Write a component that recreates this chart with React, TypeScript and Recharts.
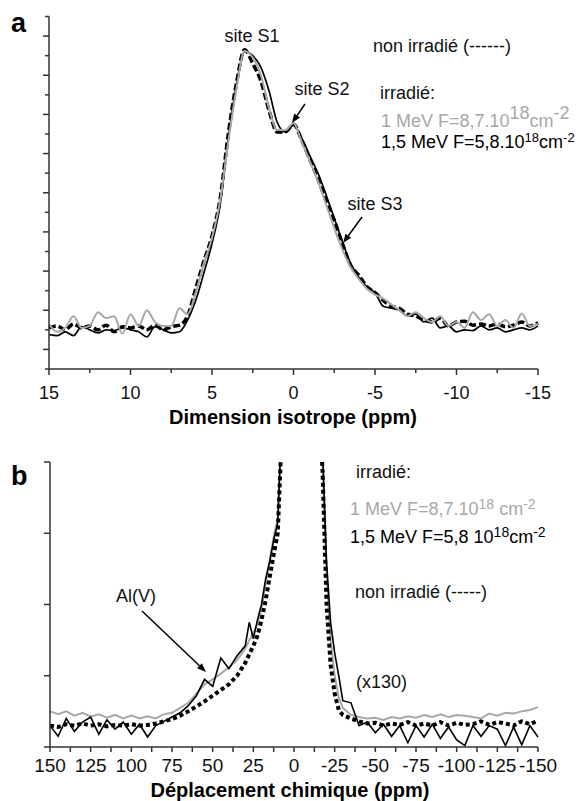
import React from 'react';
import { LineChart, Line, XAxis, YAxis } from 'recharts';

const FONT = '"Liberation Sans", Arial, Helvetica, sans-serif';
const AXIS = '#333333';
const GREY = '#a8a8a8';

// ---------- Chart a : Dimension isotrope (ppm) ----------
const xA = [15, 14.5, 14, 13.5, 13, 12.5, 12, 11.5, 11, 10.5, 10, 9.5, 9, 8.5, 8, 7.5, 7, 6.5, 6, 5.5, 5, 4.5, 4, 3.5, 3, 2.5, 2, 1.5, 1, 0.5, 0, -0.5, -1, -1.5, -2, -2.5, -3, -3.5, -4, -4.5, -5, -5.5, -6, -6.5, -7, -7.5, -8, -8.5, -9, -9.5, -10, -10.5, -11, -11.5, -12, -12.5, -13, -13.5, -14, -14.5, -15];
const greyA = [0.65, 0.45, 0.55, 0.85, 0.55, 0.6, 0.95, 0.8, 0.85, 0.4, 0.9, 0.6, 1.0, 0.7, 0.6, 0.6, 1.05, 0.9, 1.45, 2.2, 2.85, 3.8, 5.3, 6.65, 7.62, 7.45, 7.0, 6.15, 5.6, 5.6, 5.78, 5.3, 4.8, 4.3, 3.7, 3.1, 2.55, 2.1, 1.8, 1.55, 1.4, 1.3, 1.15, 1.0, 0.85, 0.95, 0.8, 0.7, 0.85, 0.6, 0.7, 0.55, 0.95, 0.75, 0.9, 0.6, 0.75, 0.55, 0.92, 0.6, 0.65];
const blackA = [0.38, 0.35, 0.45, 0.35, 0.58, 0.5, 0.42, 0.5, 0.48, 0.55, 0.5, 0.45, 0.32, 0.58, 0.5, 0.42, 0.45, 0.75, 1.25, 1.95, 2.7, 3.7, 5.4, 6.75, 7.6, 7.5, 7.2, 6.6, 5.8, 5.55, 5.72, 5.4, 4.95, 4.5, 3.95, 3.35, 2.75, 2.2, 1.85, 1.6, 1.45, 1.1, 1.05, 1.0, 0.85, 0.9, 0.7, 0.8, 0.55, 0.6, 0.45, 0.5, 0.48, 0.6, 0.5, 0.55, 0.45, 0.5, 0.55, 0.5, 0.6];
const dashA = [0.55, 0.6, 0.5, 0.65, 0.55, 0.6, 0.5, 0.62, 0.45, 0.58, 0.55, 0.6, 0.5, 0.62, 0.5, 0.58, 0.62, 0.85, 1.55, 2.25, 2.9, 3.85, 5.5, 6.8, 7.65, 7.3, 6.85, 6.1, 5.55, 5.55, 5.75, 5.35, 4.85, 4.35, 3.8, 3.3, 2.7, 2.15, 1.9, 1.6, 1.45, 1.25, 1.1, 1.05, 0.9, 0.85, 0.75, 0.7, 0.8, 0.6, 0.7, 0.72, 0.62, 0.65, 0.6, 0.65, 0.58, 0.62, 0.7, 0.6, 0.68];

const ticksAX = [15, 12.5, 10, 7.5, 5, 2.5, 0, -2.5, -5, -7.5, -10, -12.5, -15];
const labelsAX = [15, 10, 5, 0, -5, -10, -15];
const ticksAY = [-0.5, 0, 0.5, 1, 1.5, 2, 2.5, 3, 3.5, 4, 4.5, 5, 5.5, 6, 6.5, 7, 7.5, 8, 8.5];

// ---------- Chart b : Déplacement chimique (ppm) ----------
const xB = [150, 145, 140, 135, 130, 125, 120, 115, 110, 105, 100, 95, 90, 85, 80, 75, 70, 65, 60, 55, 50, 45, 40, 35,
  30, 27.5, 25, 22.5, 20, 17.5, 15, 12.5, 10, 7.5, 5, 2.5, 0, -2.5, -5, -7.5, -10, -12.5, -15, -17.5, -20, -22.5, -25, -27.5, -30,
  -35, -40, -45, -50, -55, -60, -65, -70, -75, -80, -85, -90, -95, -100, -105, -110, -115, -120, -125, -130, -135, -140, -145, -150];
const greyB = [0.5, 0.46, 0.5, 0.44, 0.48, 0.43, 0.46, 0.41, 0.45, 0.4, 0.44, 0.4, 0.43, 0.4, 0.46, 0.48, 0.55, 0.62, 0.75, 0.88, 0.95, 1.03, 1.12, 1.22,
  1.38, 1.5, 1.6, 1.72, 1.95, 2.3, 2.6, 2.95, 3.2, 4.5, 6, 8, 10, 10, 10, 9, 8, 6.5, 5.2, 4.1, 2.4, 1.5, 1.0, 0.7, 0.55,
  0.45, 0.42, 0.4, 0.41, 0.38, 0.42, 0.4, 0.43, 0.41, 0.45, 0.42, 0.46, 0.42, 0.45, 0.44, 0.42, 0.4, 0.47, 0.44, 0.48, 0.47, 0.5, 0.52, 0.56];
const blackB = [0.3, 0.15, 0.4, 0.22, 0.35, 0.42, 0.18, 0.38, 0.25, 0.35, 0.18, 0.32, 0.14, 0.3, 0.36, 0.42, 0.48, 0.58, 0.72, 0.95, 0.85, 1.25, 1.1, 1.28,
  1.42, 1.75, 1.52, 1.78, 2.0, 2.35, 2.6, 2.9, 3.15, 4.6, 6, 8, 10, 10, 10, 9, 8, 6.8, 5.5, 4.2, 2.6, 1.75, 1.32, 1.0, 0.65,
  0.62, 0.3, 0.35, 0.2, 0.32, 0.15, 0.3, 0.06, 0.3, 0.14, 0.32, 0.12, 0.28, 0.1, 0.02, 0.3, 0.15, 0.3, 0.25, 0.02, 0.28, 0.03, 0.3, 0.14];
const dashB = [0.3, 0.28, 0.32, 0.3, 0.33, 0.3, 0.32, 0.29, 0.31, 0.3, 0.32, 0.3, 0.31, 0.33, 0.36, 0.39, 0.44, 0.5, 0.57, 0.64, 0.72, 0.8, 0.88, 1.0,
  1.18, 1.3, 1.42, 1.56, 1.78, 2.05, 2.38, 2.7, 3.0, 4.4, 6, 8, 10, 10, 10, 9, 8, 6.3, 5.0, 3.9, 2.0, 1.15, 0.75, 0.52, 0.45,
  0.4, 0.36, 0.33, 0.34, 0.3, 0.33, 0.31, 0.35, 0.3, 0.33, 0.3, 0.35, 0.3, 0.34, 0.31, 0.32, 0.36, 0.31, 0.35, 0.33, 0.3, 0.36, 0.32, 0.37];

const ticksBX = [150, 137.5, 125, 112.5, 100, 87.5, 75, 62.5, 50, 37.5, 25, 12.5, 0, -12.5, -25, -37.5, -50, -62.5, -75, -87.5, -100, -112.5, -125, -137.5, -150];
const labelsBX = [150, 125, 100, 75, 50, 25, 0, -25, -50, -75, -100, -125, -150];
const ticksBY = [0, 1, 2, 3, 4];

const dataA = xA.map((x, i) => ({ x, g: greyA[i], s: blackA[i], d: dashA[i] }));
const dataB = xB.map((x, i) => ({ x, g: greyB[i], s: blackB[i], d: dashB[i] }));

const XTickA = (props: any) => {
  const { x, y, payload } = props;
  const major = labelsAX.includes(payload.value);
  return (
    <g>
      <line x1={x} x2={x} y1={y} y2={y + (major ? 6 : 4)} stroke={AXIS} strokeWidth={1.5} />
      {major && (
        <text x={x} y={y + 30} textAnchor="middle" fontSize={18} fontFamily={FONT} fill="#111">
          {String(payload.value)}
        </text>
      )}
    </g>
  );
};

const YTickA = (props: any) => {
  const { x, y, payload } = props;
  const major = Number.isInteger(payload.value);
  return <line x1={x - (major ? 6 : 4)} x2={x} y1={y} y2={y} stroke={AXIS} strokeWidth={1.5} />;
};

const XTickB = (props: any) => {
  const { x, y, payload } = props;
  const major = labelsBX.includes(payload.value);
  return (
    <g>
      <line x1={x} x2={x} y1={y} y2={y + 5} stroke={AXIS} strokeWidth={1.5} />
      {major && (
        <text x={x} y={y + 25} textAnchor="middle" fontSize={19} fontFamily={FONT} fill="#111">
          {String(payload.value)}
        </text>
      )}
    </g>
  );
};

const YTickB = (props: any) => {
  const { x, y } = props;
  return <line x1={x - 6} x2={x} y1={y} y2={y} stroke={AXIS} strokeWidth={1.5} />;
};

const Arrow = ({ x1, y1, x2, y2 }: { x1: number; y1: number; x2: number; y2: number }) => {
  const a = Math.atan2(y2 - y1, x2 - x1);
  const L = 9;
  const W = 3.5;
  const bx = x2 - L * Math.cos(a);
  const by = y2 - L * Math.sin(a);
  const p1 = `${bx + W * Math.sin(a)},${by - W * Math.cos(a)}`;
  const p2 = `${bx - W * Math.sin(a)},${by + W * Math.cos(a)}`;
  return (
    <g>
      <line x1={x1} y1={y1} x2={bx} y2={by} stroke="#000" strokeWidth={1.5} />
      <polygon points={`${x2},${y2} ${p1} ${p2}`} fill="#000" />
    </g>
  );
};

export default function App() {
  return (
    <div style={{ position: 'absolute', left: 0, top: 0, width: 585, height: 801, background: '#fff' }}>
      <div style={{ position: 'absolute', left: 0, top: 0 }}>
        <LineChart width={585} height={440} data={dataA} margin={{ top: 16.5, right: 47, bottom: 41, left: 9 }}>
          <XAxis
            dataKey="x"
            type="number"
            domain={[-15, 15]}
            reversed
            ticks={ticksAX}
            interval={0}
            tickSize={0}
            tickMargin={0}
            tickLine={false}
            tick={XTickA}
            height={30}
            axisLine={{ stroke: AXIS, strokeWidth: 1.5 }}
          />
          <YAxis
            type="number"
            domain={[-0.5, 8.5]}
            ticks={ticksAY}
            interval={0}
            tickSize={0}
            tickMargin={0}
            tickLine={false}
            tick={YTickA}
            width={40}
            axisLine={{ stroke: AXIS, strokeWidth: 1.5 }}
          />
          <Line type="monotone" dataKey="d" stroke="#000" strokeWidth={3.5} strokeDasharray="7 3" dot={false} isAnimationActive={false} />
          <Line type="monotone" dataKey="s" stroke="#000" strokeWidth={1.7} dot={false} isAnimationActive={false} />
          <Line type="monotone" dataKey="g" stroke={GREY} strokeWidth={2} dot={false} isAnimationActive={false} />
        </LineChart>
      </div>
      <div style={{ position: 'absolute', left: 0, top: 440 }}>
        <LineChart width={585} height={361} data={dataB} margin={{ top: 22, right: 47, bottom: 24, left: 10 }}>
          <XAxis
            dataKey="x"
            type="number"
            domain={[-150, 150]}
            reversed
            ticks={ticksBX}
            interval={0}
            tickSize={0}
            tickMargin={0}
            tickLine={false}
            tick={XTickB}
            height={30}
            axisLine={{ stroke: AXIS, strokeWidth: 1.5 }}
          />
          <YAxis
            type="number"
            domain={[0, 4]}
            allowDataOverflow
            ticks={ticksBY}
            interval={0}
            tickSize={0}
            tickMargin={0}
            tickLine={false}
            tick={YTickB}
            width={40}
            axisLine={{ stroke: AXIS, strokeWidth: 1.5 }}
          />
          <Line type="linear" dataKey="g" stroke={GREY} strokeWidth={2} dot={false} isAnimationActive={false} />
          <Line type="linear" dataKey="s" stroke="#000" strokeWidth={1.6} dot={false} isAnimationActive={false} />
          <Line type="linear" dataKey="d" stroke="#000" strokeWidth={4} strokeDasharray="4 3" dot={false} isAnimationActive={false} />
        </LineChart>
      </div>
      <svg width={585} height={801} style={{ position: 'absolute', left: 0, top: 0, pointerEvents: 'none' }} fontFamily={FONT}>
        {/* panel a */}
        <text x={11} y={32} fontSize={27} fontWeight="bold" fill="#000">a</text>
        <text x={252} y={42} fontSize={18} textAnchor="middle" fill="#111">site S1</text>
        <text x={322} y={95} fontSize={18} textAnchor="middle" fill="#111">site S2</text>
        <Arrow x1={305} y1={104} x2={292} y2={123} />
        <text x={375} y={210} fontSize={18} textAnchor="middle" fill="#111">site S3</text>
        <Arrow x1={362} y1={217} x2={343} y2={243} />
        <text x={373} y={52} fontSize={18} fill="#111">non irradié (------)</text>
        <text x={380} y={99} fontSize={18} fill="#111">irradié:</text>
        <text x={381} y={127} fontSize={18} fill={GREY}>
          1 MeV F=8,7.10<tspan dy={-8} fontSize={18}>18</tspan><tspan dy={8}>cm</tspan><tspan dy={-8} fontSize={18}>-2</tspan>
        </text>
        <text x={381} y={148} fontSize={18} fill="#000">
          1,5 MeV F=5,8.10<tspan dy={-6} fontSize={13}>18</tspan><tspan dy={6}>cm</tspan><tspan dy={-6} fontSize={13}>-2</tspan>
        </text>
        <text x={293} y={424} fontSize={20} fontWeight="bold" textAnchor="middle" fill="#000">Dimension isotrope (ppm)</text>

        {/* panel b */}
        <text x={11} y={485} fontSize={27} fontWeight="bold" fill="#000">b</text>
        <text x={356} y={478} fontSize={18} fill="#111">irradié:</text>
        <text x={350} y={515} fontSize={18} fill={GREY}>
          1 MeV F=8,7.10<tspan dy={-6} fontSize={14}>18</tspan><tspan dy={6}> cm</tspan><tspan dy={-6} fontSize={14}>-2</tspan>
        </text>
        <text x={350} y={543} fontSize={18} fill="#000">
          1,5 MeV F=5,8 10<tspan dy={-6} fontSize={14}>18</tspan><tspan dy={6}>cm</tspan><tspan dy={-6} fontSize={14}>-2</tspan>
        </text>
        <text x={355} y={598} fontSize={18} fill="#111">non irradié (-----)</text>
        <text x={356} y={688} fontSize={18} fill="#111">(x130)</text>
        <text x={116} y={602} fontSize={18} fill="#111">Al(V)</text>
        <Arrow x1={142} y1={611} x2={206} y2={672} />
        <text x={290} y={797} fontSize={20} fontWeight="bold" textAnchor="middle" fill="#000">Déplacement chimique (ppm)</text>
      </svg>
    </div>
  );
}
